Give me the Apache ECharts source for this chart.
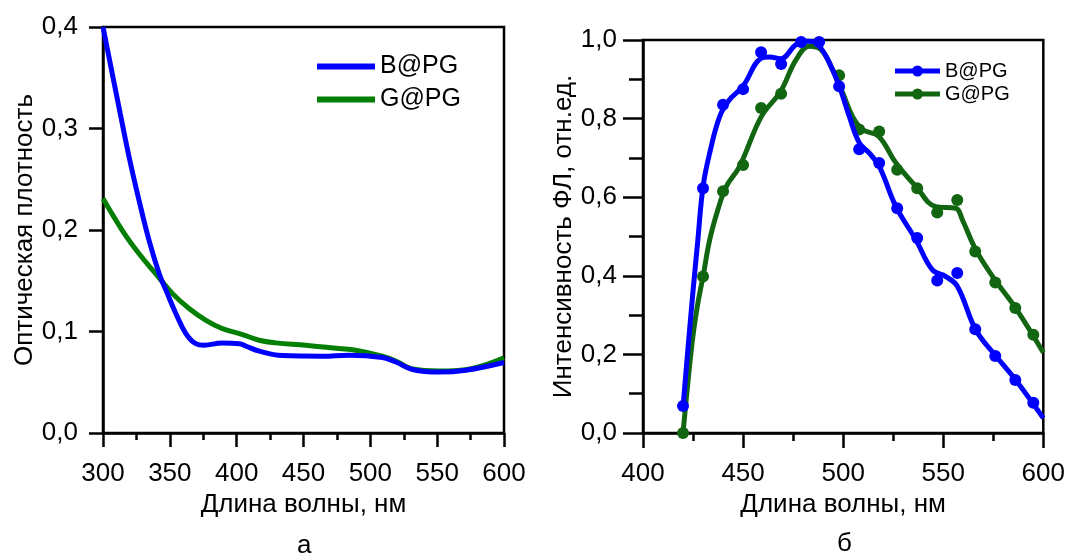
<!DOCTYPE html>
<html>
<head>
<meta charset="utf-8">
<script src="https://cdn.jsdelivr.net/npm/echarts@6/dist/echarts.min.js"></script>
<style>
html,body{margin:0;padding:0;background:#fff;}
#chart{width:1068px;height:557px;}
</style>
</head>
<body>
<div id="chart"></div>
<script>
// ---- Panel а: absorption ----
const absWlB = [300, 313, 319.5, 327, 334.4, 342, 347, 354.4, 362, 369.4, 375.6, 389, 402, 407, 417, 434, 464, 484, 509, 519, 531.5, 551.5, 571.5, 600];
const absB   = [0.400, 0.314, 0.272, 0.229, 0.190, 0.157, 0.141, 0.118, 0.098, 0.088, 0.0865, 0.0887, 0.088, 0.0855, 0.0806, 0.0763, 0.0757, 0.0767, 0.0744, 0.070, 0.0626, 0.0600, 0.0619, 0.0695];
const absWlG = [300, 314.5, 327, 339.4, 352, 364.4, 377, 389.3, 404.3, 416.8, 429.3, 451.7, 476.6, 489, 509, 519, 531.5, 551.5, 576.4, 600];
const absG   = [0.231, 0.1995, 0.1766, 0.157, 0.1373, 0.1226, 0.111, 0.1029, 0.097, 0.0914, 0.0888, 0.0865, 0.0832, 0.0816, 0.0757, 0.071, 0.063, 0.061, 0.0636, 0.074];

// ---- Panel б: photoluminescence ----
const plFitWlB = [420, 422.4, 424.9, 427.4, 430, 433.3, 438.3, 443.2, 449.9, 459.1, 463.2, 468.7, 476.5, 482.3, 486.5, 491.5, 497.8, 503.1, 508.1, 513.1, 518.1, 526.4, 536.4, 544.6, 551.3, 557.1, 566.3, 575.8, 586.2, 600];
const plFitB   = [0.067, 0.211, 0.356, 0.491, 0.627, 0.712, 0.805, 0.848, 0.882, 0.954, 0.957, 0.952, 0.988, 0.997, 0.992, 0.958, 0.886, 0.805, 0.738, 0.712, 0.678, 0.576, 0.491, 0.415, 0.398, 0.373, 0.262, 0.199, 0.135, 0.038];
const plFitWlG = [420, 422.4, 424.9, 427.4, 430, 433.3, 437.4, 441.6, 448.2, 459.1, 468.7, 476.5, 483.1, 489, 494.8, 499.8, 504.7, 509.7, 517.7, 526.4, 536.4, 546.3, 556.3, 559.6, 566.3, 575.8, 586.2, 600];
const plFitG   = [0.0, 0.127, 0.245, 0.330, 0.398, 0.491, 0.568, 0.627, 0.678, 0.805, 0.869, 0.950, 0.984, 0.975, 0.924, 0.865, 0.805, 0.772, 0.755, 0.687, 0.627, 0.576, 0.572, 0.542, 0.466, 0.390, 0.318, 0.205];

const plPtWlB = [420, 430, 440, 450, 459, 469, 479, 488, 498, 508, 518, 527, 537, 547, 557, 566, 576, 586, 595];
const plPtB   = [0.069, 0.623, 0.835, 0.875, 0.969, 0.939, 0.995, 0.995, 0.882, 0.722, 0.687, 0.572, 0.496, 0.388, 0.407, 0.264, 0.196, 0.135, 0.077];
const plPtWlG = [420, 430, 440, 450, 459, 469, 498, 508, 518, 527, 537, 547, 557, 566, 576, 586, 595];
const plPtG   = [0.0, 0.398, 0.615, 0.682, 0.827, 0.863, 0.910, 0.772, 0.767, 0.670, 0.623, 0.561, 0.593, 0.462, 0.383, 0.318, 0.250];

const seriesNames = ['B@PG', 'G@PG'];
const xTitle = 'Длина волны, нм';
const yTitleA = 'Оптическая плотность';
const yTitleB = 'Интенсивность ФЛ, отн.ед.';
const panelLabels = ['а', 'б'];

const zip = (xs, ys) => xs.map((x, i) => [x, ys[i]]);
const FONT = 'Liberation Sans, Arial, sans-serif';
const BLUE = '#0000ff';
const GREEN_A = '#037f03';
const GREEN_B = '#126612';
const comma = v => v.toFixed(1).replace('.', ',');
const commaInt = v => String(v);
const LINE_DOT_ICON = 'path://M0,3H45V8H0Z M17,5.5a5.5,5.5 0 1,1 11,0a5.5,5.5 0 1,1 -11,0Z';

function xAxis(idx, min, max, majorLen, minorLen) {
  return {
    type: 'value', gridIndex: idx, min: min, max: max, interval: 50,
    name: xTitle, nameLocation: 'middle', nameGap: 59,
    nameTextStyle: {fontSize: 26, color: '#000', fontFamily: FONT},
    axisLine: {show: true, onZero: false, lineStyle: {color: '#000', width: 2.5}},
    axisTick: {show: true, inside: false, length: majorLen, lineStyle: {color: '#000', width: 2.5}},
    minorTick: {show: true, splitNumber: 2, length: minorLen, lineStyle: {color: '#000', width: 2.5}},
    axisLabel: {fontSize: 26, color: '#000', fontFamily: FONT, margin: 28, formatter: commaInt},
    splitLine: {show: false}
  };
}

const option = {
  backgroundColor: '#fff',
  animation: false,
  grid: [
    {left: 103, top: 27, width: 401, height: 406, show: true, borderColor: '#000', borderWidth: 2.5, backgroundColor: 'transparent'},
    {left: 643, top: 40, width: 401, height: 393, show: true, borderColor: '#000', borderWidth: 2.5, backgroundColor: 'transparent'}
  ],
  legend: [
    {
      data: [{name: seriesNames[0], icon: 'rect'}, {name: seriesNames[1], icon: 'rect'}],
      left: 312, top: 49, orient: 'vertical', itemWidth: 58, itemHeight: 6, itemGap: 8,
      textStyle: {fontSize: 25, lineHeight: 24, color: '#000', fontFamily: FONT},
      selectedMode: false
    },
    {
      data: [{name: seriesNames[0] + ' ', icon: LINE_DOT_ICON}, {name: seriesNames[1] + ' ', icon: LINE_DOT_ICON}],
      left: 890, top: 56, orient: 'vertical', itemWidth: 45, itemHeight: 11, itemGap: 3,
      textStyle: {fontSize: 20, lineHeight: 20, color: '#000', fontFamily: FONT},
      selectedMode: false
    }
  ],
  xAxis: [
    xAxis(0, 300, 600, 14, 7),
    xAxis(1, 400, 600, 15, 8)
  ],
  yAxis: [
    {
      type: 'value', gridIndex: 0, min: 0, max: 0.4, interval: 0.1,
      name: yTitleA, nameLocation: 'middle', nameGap: 61,
      nameTextStyle: {fontSize: 26, color: '#000', fontFamily: FONT},
      axisLine: {show: true, onZero: false, lineStyle: {color: '#000', width: 2.5}},
      axisTick: {show: true, inside: false, length: 14, lineStyle: {color: '#000', width: 2.5}},
      minorTick: {show: false},
      axisLabel: {fontSize: 26, color: '#000', fontFamily: FONT, margin: 25, formatter: comma},
      splitLine: {show: false}
    },
    {
      type: 'value', gridIndex: 1, min: 0, max: 1, interval: 0.2,
      name: yTitleB, nameLocation: 'middle', nameGap: 51,
      nameTextStyle: {fontSize: 26, color: '#000', fontFamily: FONT},
      axisLine: {show: true, onZero: false, lineStyle: {color: '#000', width: 2.5}},
      axisTick: {show: true, inside: false, length: 20, lineStyle: {color: '#000', width: 2.5}},
      minorTick: {show: true, splitNumber: 2, length: 14, lineStyle: {color: '#000', width: 2.5}},
      axisLabel: {fontSize: 26, color: '#000', fontFamily: FONT, margin: 26, formatter: comma},
      splitLine: {show: false}
    }
  ],
  series: [
    {name: seriesNames[0], type: 'line', xAxisIndex: 0, yAxisIndex: 0, data: zip(absWlB, absB),
     smooth: 0.4, symbol: 'none', lineStyle: {color: BLUE, width: 5}, itemStyle: {color: BLUE}, z: 3},
    {name: seriesNames[1], type: 'line', xAxisIndex: 0, yAxisIndex: 0, data: zip(absWlG, absG),
     smooth: 0.4, symbol: 'none', lineStyle: {color: GREEN_A, width: 5}, itemStyle: {color: GREEN_A}, z: 2},

    {name: seriesNames[1] + ' ', type: 'line', xAxisIndex: 1, yAxisIndex: 1, data: zip(plFitWlG, plFitG),
     smooth: 0.4, symbol: 'none', lineStyle: {color: GREEN_B, width: 5}, itemStyle: {color: GREEN_B}, z: 2},
    {name: 'gpts', type: 'scatter', xAxisIndex: 1, yAxisIndex: 1, data: zip(plPtWlG, plPtG),
     symbol: 'circle', symbolSize: 12, itemStyle: {color: GREEN_B, opacity: 1}, z: 2},
    {name: seriesNames[0] + ' ', type: 'line', xAxisIndex: 1, yAxisIndex: 1, data: zip(plFitWlB, plFitB),
     smooth: 0.4, symbol: 'none', lineStyle: {color: BLUE, width: 5}, itemStyle: {color: BLUE}, z: 3},
    {name: 'bpts', type: 'scatter', xAxisIndex: 1, yAxisIndex: 1, data: zip(plPtWlB, plPtB),
     symbol: 'circle', symbolSize: 12, itemStyle: {color: BLUE, opacity: 1}, z: 3}
  ],
  graphic: [
    {type: 'text', left: 297, top: 533, style: {text: panelLabels[0], fontSize: 26, fill: '#000', fontFamily: FONT}},
    {type: 'text', left: 837, top: 531, style: {text: panelLabels[1], fontSize: 26, fill: '#000', fontFamily: FONT}}
  ]
};

const chart = echarts.init(document.getElementById('chart'), null, {renderer: 'canvas'});
chart.setOption(option);
</script>
</body>
</html>
